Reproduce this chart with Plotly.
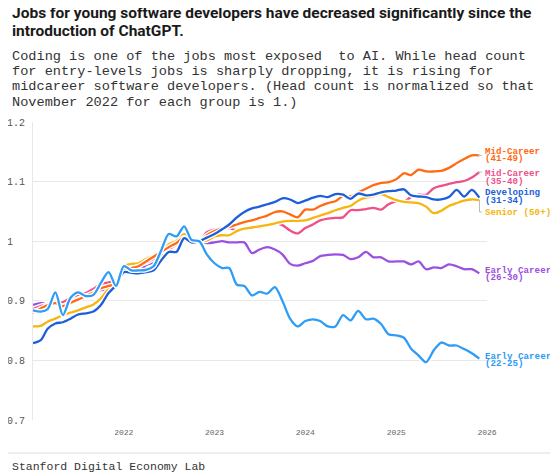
import plotly.graph_objects as go
import pandas as pd

# ---- data (monthly, Jan 2021 - Dec 2025), normalized so Nov 2022 = 1 ----
dates = pd.date_range("2021-01-01", periods=60, freq="MS")

early_22_25 = [0.884, 0.882, 0.886, 0.914, 0.876, 0.905, 0.914, 0.908, 0.910, 0.930, 0.948, 0.925,
               0.958, 0.951, 0.951, 0.952, 0.958, 0.985, 1.012, 1.008, 1.025, 1.002, 1.000, 0.978,
               0.963, 0.955, 0.955, 0.927, 0.925, 0.909, 0.915, 0.912, 0.923, 0.900, 0.870, 0.857,
               0.866, 0.869, 0.866, 0.857, 0.857, 0.876, 0.867, 0.883, 0.869, 0.870, 0.861, 0.844,
               0.842, 0.838, 0.820, 0.808, 0.797, 0.817, 0.830, 0.825, 0.825, 0.819, 0.812, 0.803]

early_26_30 = [0.893, 0.896, 0.896, 0.896, 0.898, 0.902, 0.904, 0.909, 0.913, 0.918, 0.919, 0.924,
               0.948, 0.950, 0.948, 0.960, 0.964, 0.968, 0.985, 0.995, 1.007, 0.998, 1.000, 0.997,
               0.998, 1.000, 0.998, 0.998, 0.998, 0.980, 0.986, 0.990, 0.986, 0.978, 0.962, 0.959,
               0.963, 0.967, 0.975, 0.977, 0.978, 0.977, 0.970, 0.973, 0.982, 0.973, 0.973, 0.966,
               0.966, 0.966, 0.961, 0.966, 0.953, 0.956, 0.955, 0.961, 0.958, 0.953, 0.953, 0.946]

developing = [0.829, 0.834, 0.853, 0.862, 0.864, 0.870, 0.877, 0.879, 0.882, 0.893, 0.913, 0.926,
              0.948, 0.947, 0.946, 0.948, 0.951, 0.968, 0.982, 0.982, 1.005, 0.998, 1.000, 1.006,
              1.012, 1.020, 1.028, 1.040, 1.049, 1.055, 1.058, 1.062, 1.066, 1.072, 1.070, 1.064,
              1.068, 1.073, 1.076, 1.074, 1.079, 1.078, 1.071, 1.080, 1.077, 1.078, 1.082, 1.084,
              1.085, 1.087, 1.077, 1.075, 1.074, 1.070, 1.070, 1.074, 1.086, 1.075, 1.086, 1.073]

mid_35_40 = [0.886, 0.891, 0.895, 0.898, 0.898, 0.905, 0.910, 0.913, 0.920, 0.928, 0.931, 0.934,
             0.957, 0.958, 0.960, 0.964, 0.970, 0.978, 0.986, 0.995, 1.006, 0.998, 1.000, 1.015,
             1.020, 1.021, 1.022, 1.018, 1.022, 1.023, 1.023, 1.028, 1.030, 1.027, 1.018, 1.013,
             1.022, 1.028, 1.035, 1.038, 1.039, 1.040, 1.052, 1.052, 1.054, 1.056, 1.053, 1.062,
             1.067, 1.066, 1.074, 1.078, 1.078, 1.089, 1.093, 1.096, 1.099, 1.101, 1.107, 1.116]

mid_41_49 = [0.880, 0.887, 0.893, 0.896, 0.891, 0.897, 0.902, 0.908, 0.914, 0.921, 0.925, 0.928,
             0.953, 0.955, 0.958, 0.966, 0.974, 0.982, 0.990, 0.997, 1.006, 0.998, 1.000, 1.010,
             1.017, 1.022, 1.024, 1.028, 1.032, 1.035, 1.039, 1.043, 1.049, 1.050, 1.045, 1.040,
             1.053, 1.053, 1.059, 1.064, 1.067, 1.076, 1.075, 1.082, 1.088, 1.094, 1.098, 1.099,
             1.104, 1.114, 1.111, 1.120, 1.117, 1.117, 1.118, 1.123, 1.131, 1.138, 1.144, 1.144]

senior = [0.857, 0.858, 0.865, 0.870, 0.876, 0.880, 0.884, 0.889, 0.894, 0.904, 0.920, 0.929,
          0.958, 0.962, 0.963, 0.970, 0.976, 0.982, 0.995, 1.001, 1.012, 0.998, 1.000, 1.001,
          1.008, 1.010, 1.010, 1.017, 1.021, 1.023, 1.025, 1.027, 1.030, 1.033, 1.034, 1.034,
          1.035, 1.039, 1.043, 1.047, 1.052, 1.056, 1.059, 1.068, 1.073, 1.075, 1.079, 1.074,
          1.069, 1.066, 1.065, 1.064, 1.058, 1.047, 1.051, 1.059, 1.064, 1.068, 1.070, 1.069]

x_tick_vals = ["2022-01-01", "2023-01-01", "2024-01-01", "2025-01-01", "2026-01-01"]
x_tick_text = ["2022", "2023", "2024", "2025", "2026"]
y_tick_vals = [0.7, 0.8, 0.9, 1.0, 1.1, 1.2]
y_tick_text = ["0.7", "0.8", "0.9", "1\u00a0\u00a0", "1.1", "1.2"]

series = [
    # name, values, color, label lines, label y positions
    ("Early Career (26-30)", early_26_30, "#9b51e0", ["Early Career", "(26-30)"], [0.951, 0.939]),
    ("Mid-Career (35-40)", mid_35_40, "#f0508a", ["Mid-Career", "(35-40)"], [1.1136, 1.0995]),
    ("Senior (50+)", senior, "#f7b50f", ["Senior (50+)"], [1.049]),
    ("Mid-Career (41-49)", mid_41_49, "#ff6a13", ["Mid-Career", "(41-49)"], [1.1498, 1.1388]),
    ("Developing (31-34)", developing, "#1d5fdb", ["Developing", "(31-34)"], [1.081, 1.0688]),
    ("Early Career (22-25)", early_22_25, "#2f9cf5", ["Early Career", "(22-25)"], [0.807, 0.7948]),
]

MONO = "Liberation Mono, DejaVu Sans Mono, monospace"

fig = go.Figure()
for name, vals, color, _, _ in series:
    fig.add_trace(go.Scatter(x=dates, y=vals, mode="lines", showlegend=False, hoverinfo="skip",
                             line=dict(color="white", width=5, shape="spline", smoothing=0.8)))
    fig.add_trace(go.Scatter(x=dates, y=vals, mode="lines", name=name, showlegend=False,
                             line=dict(color=color, width=2.3, shape="spline", smoothing=0.8)))

annotations = []
for name, vals, color, lines, ys in series:
    for txt, yv in zip(lines, ys):
        annotations.append(dict(x=0.991, xref="paper", y=yv, yref="y", text=txt, showarrow=False,
                                xanchor="left", yanchor="middle",
                                font=dict(family=MONO, size=9.2, color=color, weight="bold")))

# title / subtitle / source
title_lines = ["Jobs for young software developers have decreased significantly since the",
               "introduction of ChatGPT."]
subtitle_lines = ["Coding is one of the jobs most exposed\u00a0 to AI. While head count",
                  "for entry-levels jobs is sharply dropping, it is rising for",
                  "midcareer software developers. (Head count is normalized so that",
                  "November 2022 for each group is 1.)"]
H = 298.0
def py(px):
    return (420 - px) / H
left = (10 - 33) / 454.0
for txt, ypx in zip(title_lines, [12.5, 31]):
    annotations.append(dict(x=left, xref="paper", y=py(ypx), yref="paper", text=txt, showarrow=False,
                            xanchor="left", yanchor="middle",
                            font=dict(family="Roboto, Inter, sans-serif", size=15.5, color="#1a1a1a", weight="bold")))
for txt, ypx in zip(subtitle_lines, [56, 71, 86.5, 102]):
    annotations.append(dict(x=left, xref="paper", y=py(ypx), yref="paper", text=txt, showarrow=False,
                            xanchor="left", yanchor="middle",
                            font=dict(family=MONO, size=13.6, color="#333333")))
annotations.append(dict(x=left, xref="paper", y=py(466), yref="paper", text="Stanford Digital Economy Lab",
                        showarrow=False, xanchor="left", yanchor="middle",
                        font=dict(family=MONO, size=11.5, color="#333333")))

shapes = [dict(type="line", xref="paper", yref="paper", x0=(8 - 33) / 454.0, x1=(558 - 33) / 454.0,
               y0=py(453), y1=py(453), line=dict(color="#dddddd", width=1))]
# leader lines from line ends to labels
lx0 = (478 - 33) / 454.0
lx1 = (482 - 33) / 454.0
shapes.append(dict(type="line", xref="paper", yref="y", x0=lx0, x1=lx1, y0=mid_41_49[-1], y1=mid_41_49[-1],
                   line=dict(color="#bbbbbb", width=1)))
shapes.append(dict(type="line", xref="paper", yref="y", x0=lx0, x1=lx1, y0=mid_35_40[-1], y1=mid_35_40[-1],
                   line=dict(color="#bbbbbb", width=1)))
vx = (479.5 - 33) / 454.0
shapes.append(dict(type="line", xref="paper", yref="y", x0=vx, x1=vx, y0=senior[-1], y1=1.049,
                   line=dict(color="#bbbbbb", width=1)))
shapes.append(dict(type="line", xref="paper", yref="y", x0=vx, x1=lx1, y0=1.049, y1=1.049,
                   line=dict(color="#bbbbbb", width=1)))

# page body adds an 8px offset, so the figure is 8px smaller and margins shifted
fig.update_layout(
    width=550, height=464,
    margin=dict(l=25, r=71, t=114, b=52, autoexpand=False),
    paper_bgcolor="white", plot_bgcolor="white",
    showlegend=False,
    annotations=annotations,
    shapes=shapes,
    xaxis=dict(range=["2021-01-01", "2026-01-01"], tickmode="array", tickvals=x_tick_vals,
               ticktext=x_tick_text, showgrid=False, zeroline=False, showline=False,
               ticks="", ticklabelstandoff=6, automargin=False,
               tickfont=dict(family=MONO, size=8, color="#666666")),
    yaxis=dict(range=[0.7, 1.2], tickmode="array", tickvals=y_tick_vals, ticktext=y_tick_text,
               showgrid=True, gridcolor="#e8e8e8", gridwidth=1, zeroline=False, automargin=False,
               showline=True, linecolor="#e8e8e8", linewidth=1, ticks="", ticklabelstandoff=5,
               tickfont=dict(family=MONO, size=10, color="#555555")),
)

fig.write_html("out.html")
